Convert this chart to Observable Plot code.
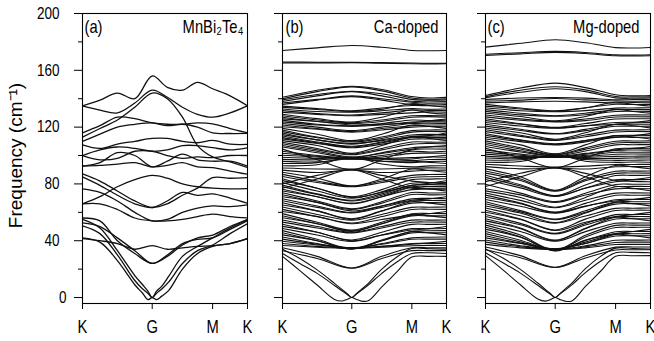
<!DOCTYPE html>
<html><head><meta charset="utf-8">
<script src="https://cdn.jsdelivr.net/npm/d3@7"></script>
<script src="https://cdn.jsdelivr.net/npm/@observablehq/plot@0.6"></script>
<style>
body{margin:0;background:#fff;}
#chart{position:relative;width:654px;height:341px;overflow:hidden;background:#fff;}
</style></head><body><div id="chart"></div>
<script>
// high-symmetry path K-G-M-K (path length units)
const kPath = [0, 1.333, 2.488, 3.155];
const kLabels = ["K", "G", "M", "K"];
const yMajor = [0, 40, 80, 120, 160, 200];
const yMinor = [20, 60, 100, 140, 180];

// sampling grids along the path
const qA = [0, 0.333, 0.667, 1.0, 1.333, 1.622, 1.911, 2.199, 2.488, 2.822, 3.155];
const qAc = [0, 0.333, 0.667, 1.0, 1.15, 1.25, 1.333, 1.416, 1.516, 1.65, 1.911, 2.2, 2.488, 2.822, 3.155];
const qB = [0, 0.667, 1.333, 1.911, 2.488, 2.822, 3.155];

// ---- (a) MnBi2Te4 ----
const acousticA = [
  [42, 39, 26, 9, 3, -1.5, 0, -1.5, 1, 5, 20, 31, 36, 38, 41.5],
  [50.5, 45, 30, 12, 6, 3, 0, 3, 6, 11, 24, 33, 37, 45, 52],
  [55, 49, 33, 15.5, 9, 4.5, 0, 4.5, 8, 15, 29, 36, 42, 49, 54.7]
];
const opticalA = [
  [56, 54, 40, 31, 24, 29, 37, 42, 44, 50, 55],
  [52.5, 50, 42, 33, 24, 30, 38, 41, 42, 48, 54],
  [41.5, 40, 38, 34, 36.5, 34, 35, 36, 36.5, 38, 41.5],
  [135, 139, 144, 140, 156, 148, 146, 151.5, 147, 142, 135],
  [135, 132, 130, 137, 146, 141, 134, 129, 127, 130, 135],
  [113, 119, 125, 134, 144, 140, 127, 107, 99, 95.5, 91.5],
  [116, 121, 127, 126, 123, 122, 122, 123, 122.3, 119, 116],
  [110, 115, 120, 122, 123, 121, 122, 120, 116, 115.5, 115.6],
  [107.5, 105, 108, 110, 112, 112, 110, 109, 110.6, 108, 107.8],
  [100, 104, 106, 105, 103, 104, 107, 107, 105.5, 104, 105.5],
  [100, 97, 98, 103, 103, 100, 98, 99, 98.5, 100, 100],
  [92.5, 95, 102, 100, 92, 96, 101, 97, 96, 96, 92.6],
  [92.5, 93, 94, 95, 92, 93, 95, 92, 91.5, 89, 86.8],
  [66, 71, 78, 83, 86, 84, 80, 78, 77, 76.5, 76.7],
  [87, 82, 75, 68, 63.4, 66, 72, 77, 84.4, 84, 84.4],
  [85, 79, 72, 66, 63.4, 68, 74, 72, 73, 70, 66.4],
  [76.5, 74, 68, 60, 54, 55, 60, 63, 64.5, 64, 65.3],
  [66, 66, 62, 56, 54, 54, 55, 57, 58.7, 57, 56]
];

// ---- (b) Ca-doped ----
const acousticB = [
  [29, 19, 8.8, -1.3, -2.4, -1.2, 0, -1.2, -2.5, -2.2, 7.5, 18, 28.5, 29, 29],
  [31, 24, 17, 8.5, 4.5, 2, 0, 2.2, 5, 8.8, 17, 25, 31, 31.5, 31],
  [34, 27.5, 19.5, 10, 5.5, 2.5, 0, 2.5, 5.7, 10, 20, 28.5, 34.5, 34.3, 34]
];
const opticalB = [
  [174, 175.8, 177.5, 176.2, 174, 173.8, 174],
  [165.8, 165.7, 165.6, 165.4, 165.1, 165, 165],
  [165.2, 165.2, 165.3, 165, 164.6, 164.5, 164.6],
  [141, 146, 148.8, 146.5, 141.5, 140.5, 141],
  [140, 145, 148.3, 145.5, 140.5, 139.6, 140],
  [139.2, 143, 145.3, 143.5, 139.5, 139, 139.2],
  [138, 142, 145, 142, 138.2, 138.4, 138],
  [137, 139.5, 142, 140, 137.5, 137, 137],
  [136, 139, 141.5, 139, 136, 136.3, 136],
  [134.8, 133, 131.5, 133.5, 135.2, 135, 134.8],
  [133.9, 132.4, 131, 132.5, 136.5, 135.2, 133.9],
  [132.8, 131, 130.5, 131.5, 133, 132.6, 132.8],
  [131.6, 129.5, 128.5, 130, 132, 131.8, 131.6],
  [130.4, 129, 128, 129, 130, 130.8, 130.4],
  [129.1, 126, 123.5, 127, 132, 130, 129.1],
  [128, 125, 123, 125, 128, 128.2, 128],
  [127, 124, 122.5, 124, 127, 127.4, 127],
  [125.8, 124, 121.5, 122, 123, 124.5, 125.8],
  [124.9, 122, 121, 122.5, 125, 124.6, 124.9],
  [123.7, 121.5, 120.5, 121.5, 123.6, 123.8, 123.7],
  [122.6, 120, 117.5, 120, 122.5, 122.8, 122.6],
  [121.5, 119, 117, 119, 121, 121.5, 121.5],
  [120.3, 118.5, 116.5, 118, 120, 120.4, 120.3],
  [119.1, 115, 110.5, 115, 121.5, 120.5, 119.1],
  [118, 113, 110, 113, 117.5, 118, 118],
  [116.8, 112.5, 109.5, 112, 116.5, 117, 116.8],
  [115.9, 111, 108.5, 110.5, 113, 114, 115.9],
  [114.7, 111, 108, 111, 114.5, 114.9, 114.7],
  [113.8, 109.5, 106.5, 109.5, 113.5, 113.7, 113.8],
  [112.6, 109, 106, 109, 112.5, 112.8, 112.6],
  [111.7, 108.5, 105.5, 108, 111.5, 111.6, 111.7],
  [110.5, 107, 101.5, 107, 113, 112, 110.5],
  [109.4, 105, 101, 105, 109.5, 109.4, 109.4],
  [108.3, 104, 100.5, 104, 108, 108.5, 108.3],
  [107, 103, 99, 101.5, 104.5, 106, 107],
  [106, 102, 98.5, 102, 105.5, 106.1, 106],
  [104.5, 97, 90, 97, 104, 104.6, 104.5],
  [103, 100, 98, 100, 103, 102.5, 103],
  [101.6, 99.5, 97.5, 99, 101.5, 101.7, 101.6],
  [100.2, 99, 97.5, 97.5, 97.5, 99, 100.2],
  [98.8, 98, 98.6, 98, 98.5, 98.9, 98.8],
  [97.3, 97, 98.2, 97.5, 96.5, 97.2, 97.3],
  [95.9, 95.5, 97.5, 96, 95, 95.8, 95.9],
  [94.4, 95, 98.5, 96, 96, 95.2, 94.4],
  [92.8, 93.5, 99, 94, 92, 92.7, 92.8],
  [91.2, 90.5, 90.4, 90.5, 91, 91.3, 91.2],
  [89.7, 88, 89.8, 88, 89, 89.6, 89.7],
  [80, 86, 90, 86, 82, 81, 80],
  [77, 83.5, 90, 83.5, 77, 77, 77],
  [88.2, 84, 78.6, 83.5, 90.5, 89.5, 88.2],
  [86.7, 82, 78.4, 82, 86, 86.6, 86.7],
  [85.2, 81, 78, 81, 84.5, 85.1, 85.2],
  [83.7, 77, 71, 76, 83, 83.4, 83.7],
  [82.3, 77, 70.5, 74, 79, 80.5, 82.3],
  [80.9, 75, 70, 74.5, 80.5, 80.8, 80.9],
  [79.3, 73, 68.5, 73, 79, 79.5, 79.3],
  [78.1, 72.5, 68, 72, 78, 78.2, 78.1],
  [76.2, 71, 66.5, 71, 76, 76.3, 76.2],
  [75, 71, 66, 71, 77.5, 76.5, 75],
  [73.8, 68, 62.5, 67.5, 74, 73.6, 73.8],
  [72.4, 67, 62, 66.5, 72.5, 72.3, 72.4],
  [71, 67, 61, 64.5, 68.5, 69.5, 71],
  [69.6, 64.5, 60, 64.5, 69.5, 69.8, 69.6],
  [68.2, 63.5, 59.5, 63.5, 68, 68.3, 68.2],
  [66.7, 61, 55.5, 61, 66.5, 66.8, 66.7],
  [65.2, 61, 55, 61, 67.5, 66.5, 65.2],
  [63.7, 58.5, 54.5, 58.5, 63.5, 63.6, 63.7],
  [62.1, 57, 52.5, 57, 62, 62.2, 62.1],
  [60.6, 57, 52, 55, 58, 59, 60.6],
  [59.1, 53, 47.5, 53, 59, 59.2, 59.1],
  [57.6, 52, 47, 52, 57.5, 57.5, 57.6],
  [56.2, 52, 46.5, 52, 58.5, 57.5, 56.2],
  [54.6, 50, 46, 50, 54.5, 54.5, 54.6],
  [53.1, 49, 45.5, 49, 53, 53.2, 53.1],
  [51.6, 46, 40.5, 46, 51.5, 51.5, 51.6],
  [50.1, 46, 40, 44, 47.5, 48.5, 50.1],
  [48.6, 44, 39.5, 44, 48.5, 48.4, 48.6],
  [47.1, 41, 34.5, 40.5, 46.5, 47, 47.1],
  [45.6, 40, 34.2, 40, 45.5, 45.6, 45.6],
  [44.1, 40, 34, 40, 46.5, 45.5, 44.1],
  [42.6, 38, 34.5, 38, 42, 42.5, 42.6],
  [41.1, 37.5, 35, 37.5, 41, 41.1, 41.1],
  [39.6, 37, 35, 36, 37.5, 38.5, 39.6],
  [38.1, 36, 34.8, 36, 38, 38.1, 38.1],
  [36.6, 35.5, 34.5, 35.5, 36.5, 36.7, 36.6],
  [35, 29, 20.8, 29, 35, 35, 35],
  [33, 27.5, 20.6, 27.5, 33, 33, 33]
];

// ---- (c) Mg-doped ----
const acousticC = [
  [29.5, 19.5, 9, -1, -2.5, -1.3, 0, -1.3, -2.5, -2.4, 7.8, 18.5, 29, 29.4, 29.5],
  [31.5, 24.5, 17.2, 8.6, 4.6, 2.1, 0, 2.2, 5, 8.9, 17.5, 25.5, 31.5, 31.8, 31.5],
  [34.2, 27.8, 19.8, 10.2, 5.6, 2.6, 0, 2.6, 5.8, 10.2, 20.4, 29, 34.8, 34.5, 34.2]
];
const opticalC = [
  [176.3, 179, 181.5, 179.4, 176, 175.7, 176.1],
  [171.3, 172.4, 173.3, 172.5, 170.9, 170.7, 171.0],
  [170.5, 171.6, 172.6, 171.8, 170.2, 170.1, 170.3],
  [142.3, 147.5, 151, 147.8, 142.8, 142, 142.3],
  [141.4, 146, 148.4, 146.2, 141.6, 141.2, 141.4],
  [140.6, 144.5, 147, 145, 140.6, 140.3, 140.6],
  [139.4, 140.5, 140.8, 140.4, 139.2, 139.4, 139.4],
  [138.3, 139, 140.2, 139.2, 138.4, 138.2, 138.3],
  [137.1, 137.8, 138.2, 137.8, 137, 137.3, 137.1],
  [136, 133.5, 131.5, 133.6, 136.1, 135.9, 136],
  [134.8, 132.8, 131.2, 133.5, 137.5, 136, 134.8],
  [133.6, 131.5, 130.8, 131.6, 133.4, 133.5, 133.6],
  [132.3, 129.8, 128, 129.8, 132.2, 132.4, 132.3],
  [131.1, 128.6, 127.6, 128.7, 131, 131.2, 131.1],
  [129.8, 127.5, 124.4, 127.5, 132.5, 131, 129.8],
  [128.5, 125.8, 124, 125.7, 128.4, 128.6, 128.5],
  [127.2, 124.8, 123.6, 124.6, 127.1, 127.3, 127.2],
  [125.9, 122.4, 119.8, 122.5, 125.7, 125.9, 125.9],
  [124.6, 122, 119.5, 121, 122, 123.2, 124.6],
  [123.3, 120.8, 119.2, 120.9, 123.2, 123.4, 123.3],
  [122, 118.5, 115.5, 118.4, 121.8, 122.1, 122],
  [120.7, 117.6, 115.1, 117.5, 120.6, 120.6, 120.7],
  [119.4, 116, 111.5, 116, 122, 121, 119.4],
  [118.1, 114.3, 111, 114.4, 117.9, 118, 118.1],
  [116.8, 113.5, 110.6, 113.2, 116.6, 116.9, 116.8],
  [115.5, 111, 108.2, 110.5, 113, 114, 115.5],
  [114.2, 110.6, 107.8, 110.5, 114, 114.3, 114.2],
  [112.9, 109.8, 107.4, 109.6, 112.8, 112.8, 112.9],
  [111.6, 107.5, 101.2, 107.5, 114, 113, 111.6],
  [110.3, 105.5, 100.8, 105.4, 110.1, 110.2, 110.3],
  [109, 104.6, 100.4, 104.5, 108.8, 109.1, 109],
  [107.7, 103.4, 99.8, 103.2, 107.5, 107.6, 107.7],
  [106.4, 102.5, 99.4, 101.5, 104, 105, 106.4],
  [105.1, 98.4, 91.4, 98.3, 104.8, 105, 105.1],
  [103.8, 101, 99.0, 100.9, 103.6, 103.9, 103.8],
  [102.4, 100.2, 98.6, 100.1, 102.3, 102.3, 102.4],
  [101, 99.4, 98.8, 99.3, 100.9, 101.1, 101],
  [99.6, 98.6, 99.2, 98.7, 99.4, 99.5, 99.6],
  [98.2, 97.8, 99.6, 97.9, 98, 98.3, 98.2],
  [96.8, 97, 100, 97.2, 96.6, 96.7, 96.8],
  [95.3, 95.8, 100.4, 96, 95.2, 95.4, 95.3],
  [93.8, 92.6, 91.8, 92.5, 93.7, 93.7, 93.8],
  [92.2, 90.6, 91.2, 90.5, 92.1, 92.3, 92.2],
  [81.5, 87.5, 91.4, 87.4, 82.4, 81.8, 81.5],
  [78.2, 85, 91.4, 85.1, 78.4, 78.3, 78.2],
  [90.6, 85, 75.5, 85, 93, 92, 90.6],
  [89.1, 83.5, 75.2, 83.2, 88.9, 89, 89.1],
  [87.6, 82.4, 74.8, 82.2, 87.4, 87.7, 87.6],
  [86.1, 79.4, 71.8, 79.3, 85.9, 86, 86.1],
  [84.6, 78.5, 71.5, 77, 81.5, 83, 84.6],
  [83.1, 77.2, 71.2, 77.1, 82.9, 83, 83.1],
  [79.8, 73.5, 67.5, 73.4, 79.6, 79.8, 79.8],
  [76.6, 72.3, 67, 72.2, 76.5, 76.7, 76.6],
  [75.1, 70.5, 63.6, 70.5, 78, 77, 75.1],
  [73.6, 68.4, 63.2, 68.5, 73.5, 73.7, 73.6],
  [72.1, 66.5, 60.2, 66.3, 72, 72, 72.1],
  [70.6, 66, 59.8, 64.5, 68, 69, 70.6],
  [69, 64.3, 59.4, 64.2, 68.9, 69.1, 69],
  [67.5, 61.2, 55.2, 61.1, 67.3, 67.4, 67.5],
  [66, 60.3, 54.8, 60.1, 65.8, 66.1, 66],
  [64.5, 59.5, 52.8, 59.5, 67, 66, 64.5],
  [63, 57.6, 52.4, 57.4, 62.8, 62.9, 63],
  [61.5, 55.3, 47.6, 55.2, 61.3, 61.5, 61.5],
  [60, 55, 47.2, 53, 57, 58.5, 60],
  [58.5, 52.2, 45.2, 52.1, 58.4, 58.4, 58.5],
  [57, 51.2, 44.8, 51.1, 56.9, 57, 57],
  [55.5, 49, 40.4, 48.8, 55.3, 55.5, 55.5],
  [54, 48.5, 40, 48.5, 56.5, 55.5, 54],
  [52.5, 46.5, 39.6, 46.4, 52.3, 52.4, 52.5],
  [51, 44, 33.4, 43.8, 50.8, 51, 51],
  [49.5, 42.8, 33, 42.6, 49.3, 49.4, 49.5],
  [48, 42.5, 32.8, 40.5, 45, 46.5, 48],
  [46.5, 40.4, 33.4, 40.2, 46.3, 46.5, 46.5],
  [45, 39.2, 33.8, 39, 44.8, 44.9, 45],
  [43.5, 38.3, 34.2, 38.1, 43.3, 43.5, 43.5],
  [42, 38, 34.4, 38, 44.5, 43.5, 42],
  [40.5, 36.5, 34.3, 36.4, 40.3, 40.4, 40.5],
  [39, 35.8, 34, 35.7, 38.8, 39, 39],
  [37.4, 35, 33.8, 35, 37.3, 37.4, 37.4],
  [35.6, 29.5, 21.3, 29.4, 35.5, 35.6, 35.6],
  [33.6, 28, 21.1, 27.9, 33.5, 33.6, 33.6]
];

const panelTags = ["(a)", "(b)", "(c)"];
const panelNames = ["MnBi\u2082Te\u2084", "Ca-doped", "Mg-doped"];
const yTitle = "Frequency (cm\u207B\u00B9)";

function toRows(sets) {
  const rows = [];
  let id = 0;
  for (const [grid, bands] of sets) {
    for (const b of bands) {
      b.forEach((v, j) => rows.push({q: grid[j], f: v, band: id}));
      id++;
    }
  }
  return rows;
}

const FONT = "'Liberation Sans', Arial, Helvetica, sans-serif";

function panel({rows, width, ml, mr, labels, tag, name, tagDx, nameDx, sw}) {
  const marks = [
    Plot.line(rows, {x: "q", y: "f", z: "band", curve: "catmull-rom", stroke: "#111", strokeWidth: sw, clip: true}),
    Plot.frame({stroke: "#000", strokeWidth: 1.1}),
    Plot.axisX(kPath, {tickSize: 6, tickPadding: 11, fontSize: 18, tickFormat: d => kLabels[kPath.indexOf(d)], label: null}),
    Plot.axisY(yMinor, {tickSize: 4, tickFormat: () => "", label: null}),
    Plot.text([tag], {text: d => d, frameAnchor: "top-left", dx: tagDx, dy: 19, lineAnchor: "bottom", textAnchor: "start", fontSize: 18}),
    Plot.text([name], {text: d => d, frameAnchor: "top-right", dx: nameDx, dy: 19, lineAnchor: "bottom", textAnchor: "end", fontSize: 18})
  ];
  if (labels) {
    marks.push(
      Plot.axisY(yMajor.filter(d => d !== 0), {tickSize: 8, tickPadding: 15, fontSize: 16.5, label: null}),
      Plot.axisY([0], {tickSize: 8, tickPadding: 8, fontSize: 16.5, label: null}),
      Plot.text([yTitle], {text: d => d, frameAnchor: "left", dx: -67, dy: -3, rotate: -90, fontSize: 19, textAnchor: "middle"})
    );
  } else {
    marks.push(Plot.axisY(yMajor, {tickSize: 8, tickFormat: () => "", label: null}));
  }
  return Plot.plot({
    width, height: 341,
    marginLeft: ml, marginRight: mr, marginTop: 13, marginBottom: 38,
    style: {background: "transparent", fontFamily: FONT, overflow: "visible", color: "#000"},
    x: {domain: [0, 3.155]},
    y: {domain: [-4.2, 200]},
    marks
  });
}

const chart = document.getElementById("chart");
const specs = [
  {left: 0, rows: toRows([[qAc, acousticA], [qA, opticalA]]), width: 252, ml: 82, mr: 5, labels: true, tagDx: 2, nameDx: -4, sw: 1.3},
  {left: 242, rows: toRows([[qAc, acousticB], [qB, opticalB]]), width: 209, ml: 40, mr: 5, labels: false, tagDx: 3, nameDx: -8, sw: 1.1},
  {left: 445, rows: toRows([[qAc, acousticC], [qB, opticalC]]), width: 209, ml: 40, mr: 4, labels: false, tagDx: 2, nameDx: -11, sw: 1.1}
];
specs.forEach((s, i) => {
  const svg = panel({...s, tag: panelTags[i], name: panelNames[i]});
  svg.style.position = "absolute";
  svg.style.left = s.left + "px";
  svg.style.top = "0px";
  svg.style.maxWidth = "none";
  svg.querySelectorAll("text").forEach(t => {
    const tr = t.getAttribute("transform") || "";
    if (tr.startsWith("translate") && !tr.includes("rotate")) t.setAttribute("transform", tr + " scale(0.82,1)");
  });
  chart.appendChild(svg);
});
</script></body></html>
